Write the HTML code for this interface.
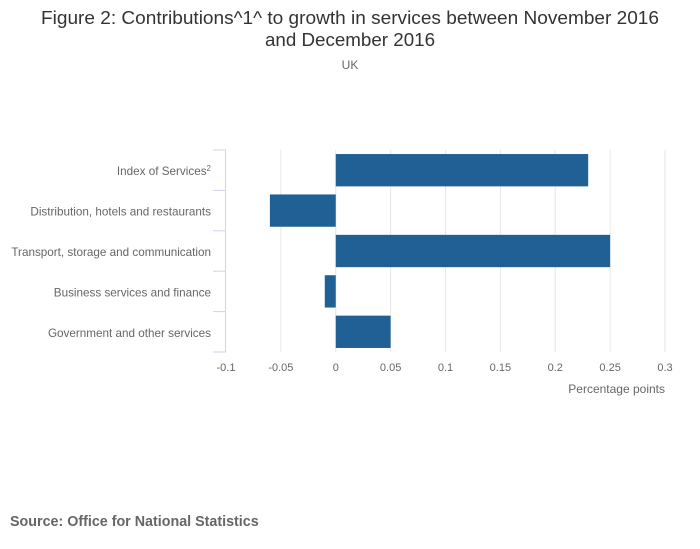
<!DOCTYPE html>
<html><head><meta charset="utf-8"><style>
body{margin:0;background:#fff;}
svg{display:block;font-family:"Liberation Sans",sans-serif;}
</style></head><body>
<svg id="chart" width="700" height="549" viewBox="0 0 700 549" xmlns="http://www.w3.org/2000/svg">
<text x="350" y="24" text-anchor="middle" font-size="18" fill="#333" textLength="618" lengthAdjust="spacingAndGlyphs">Figure 2: Contributions^1^ to growth in services between November 2016</text>
<text x="350" y="46" text-anchor="middle" font-size="18" fill="#333" textLength="170" lengthAdjust="spacingAndGlyphs">and December 2016</text>
<text x="350" y="69" text-anchor="middle" font-size="12" fill="#666">UK</text>
<g id="grid"></g><g id="bars"></g><g id="yaxis"></g><g id="xaxis"></g>
<text x="665" y="393" text-anchor="end" font-size="12" fill="#666">Percentage points</text>
<text x="10" y="526" font-size="14.3" font-weight="bold" fill="#666">Source: Office for National Statistics</text>
</svg>
<script>
const categories=["Index of Services","Distribution, hotels and restaurants","Transport, storage and communication","Business services and finance","Government and other services"];
const values=[0.23,-0.06,0.25,-0.01,0.05];
const xTicks=[-0.1,-0.05,0,0.05,0.1,0.15,0.2,0.25,0.3];
const xTickLabels=["-0.1","-0.05","0","0.05","0.1","0.15","0.2","0.25","0.3"];
const NS="http://www.w3.org/2000/svg";
const X0=226,X1=665,Y0=150,Y1=352,xmin=-0.1,xmax=0.3;
const x=v=>X0+(v-xmin)/(xmax-xmin)*(X1-X0);
const band=(Y1-Y0)/categories.length;
const y=i=>Y0+i*band;
function mk(t,a,p){const e=document.createElementNS(NS,t);for(const k in a)e.setAttribute(k,a[k]);p.appendChild(e);return e;}
const grid=document.getElementById('grid'),bars=document.getElementById('bars'),ya=document.getElementById('yaxis'),xa=document.getElementById('xaxis');
xTicks.forEach((t,i)=>{
  if(i>0){const l=mk('line',{x1:x(t),x2:x(t),y1:Y0,y2:Y1,stroke:'#e6e6e6','stroke-width':1},grid);
  
  }
  const tx=mk('text',{x:x(t),y:371,'text-anchor':'middle','font-size':11,fill:'#666'},xa);
  tx.textContent=xTickLabels[i];
  
  
});
values.forEach((v,i)=>{
  const pad=band*0.1;
  const r=mk('rect',{x:Math.min(x(0),x(v)),y:y(i)+pad,width:Math.abs(x(v)-x(0)),height:band-2*pad,fill:'#206095'},bars);
  
  
});
const ax=mk('line',{x1:X0-0.5,x2:X0-0.5,y1:Y0,y2:Y1,stroke:'#ccd6eb','stroke-width':1},ya);


for(let i=0;i<=categories.length;i++){
  const tk=mk('line',{x1:X0-13,x2:X0,y1:y(i),y2:y(i),stroke:'#ccd6eb','stroke-width':1},ya);
  
  
}
categories.forEach((c,i)=>{
  const t=mk('text',{x:211,y:y(i)+band/2+5,'text-anchor':'end','font-size':11.7,fill:'#666'},ya);
  t.textContent=c;
  if(i===0){const s=mk('tspan',{dy:-4,'font-size':8},t);s.textContent='2';}
  
  
});
</script>
</body></html>
